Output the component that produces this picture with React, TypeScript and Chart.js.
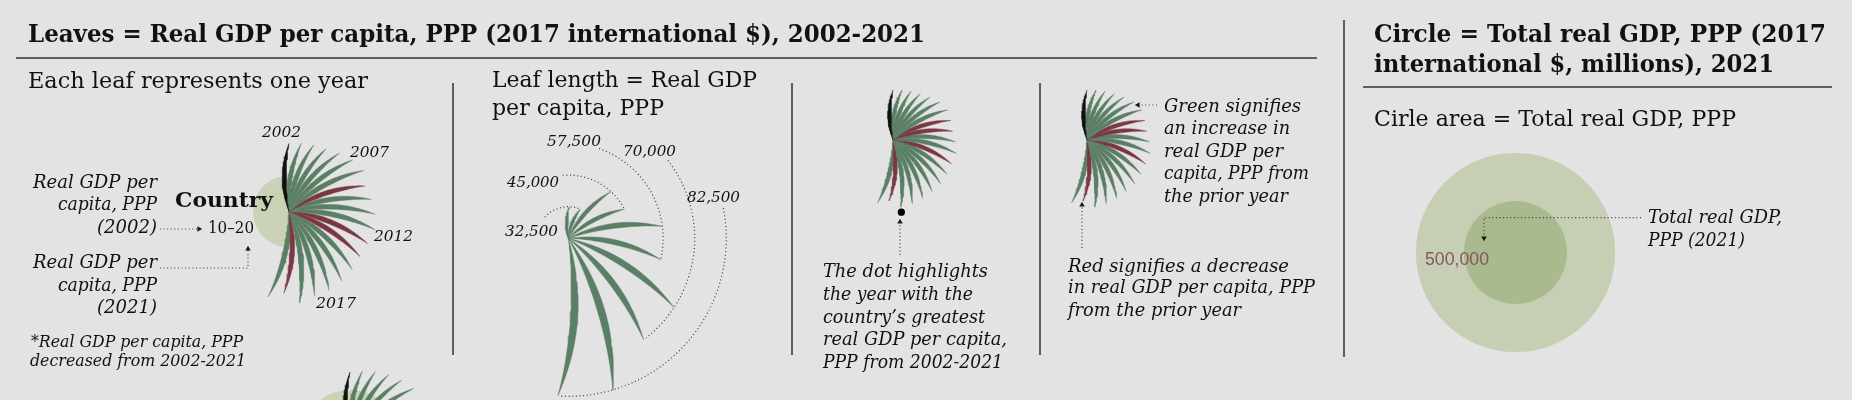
import React, { useEffect, useRef } from "react";
import { Chart, registerables } from "chart.js";

Chart.register(...registerables);

// ---------------- DATA ----------------
const years = [2002, 2003, 2004, 2005, 2006, 2007, 2008, 2009, 2010, 2011, 2012, 2013, 2014, 2015, 2016, 2017, 2018, 2019, 2020, 2021];
// real GDP per capita, PPP (thousands of 2017 intl $) of the example country
const exampleGdpPc = [10, 10.5, 11.5, 12.5, 14.5, 17, 18.5, 16, 17.5, 19, 20, 18.5, 18, 19, 19.5, 20, 20, 22, 17, 20];
const smallFanGdpPc = [10, 10.5, 11.5, 12.5, 14.5, 17, 18.5, 17.5, 17, 18.5, 20, 19, 19.5, 20, 20, 20.5, 21, 22, 17.5, 20];
const bottomFanGdpPc = [10, 11, 12.5, 14, 15.5, 17, 16, 17.5, 18, 19, 20, 19, 20.5, 21, 21.5, 22, 22.5, 23, 22, 23];
// leaf length legend
const leafLengthValues = [32500, 32500, 45000, 45000, 57500, 57500, 70000, 70000, 82500, 82500];
const leafLengthTicks = [32500, 45000, 57500, 70000, 82500];
// total real GDP, PPP (millions)
const totalGdpLegend = [1870000, 500000];
const fanCircleGdp = [244000, 470000];

// ---------------- STYLE ----------------
const BG = "#e2e3e2";
const GREEN = "#5a7f64";
const RED = "#7a3846";
const BLACK = "#111111";
const LINE = "#333333";
const DOT = "#3a3a3a";
const SERIF = "'DejaVu Serif', serif";
const SANS = "'Liberation Sans', Arial, sans-serif";

const fmt = (v: number) => v.toLocaleString("en-US");

// ---------------- GEOMETRY HELPERS ----------------
function leafPoints(cx: number, cy: number, angDeg: number, L: number, W: number, bulge = 0.07) {
  const a = (angDeg * Math.PI) / 180;
  const dx = Math.sin(a), dy = -Math.cos(a);
  const nx = -Math.cos(a), ny = -Math.sin(a);
  const N = 26;
  const left: { x: number; y: number }[] = [];
  const right: { x: number; y: number }[] = [];
  for (let k = 0; k <= N; k++) {
    const t = k / N;
    const off = bulge * L * 4 * t * (1 - t);
    const px = cx + dx * L * t + nx * off;
    const py = cy + dy * L * t + ny * off;
    const dOff = bulge * L * 4 * (1 - 2 * t);
    let tx = dx * L + nx * dOff, ty = dy * L + ny * dOff;
    const tl = Math.hypot(tx, ty);
    tx /= tl; ty /= tl;
    const hx = -ty, hy = tx;
    const h = (W / 2) * Math.pow(Math.sin(Math.PI * t), 0.95);
    left.push({ x: px + hx * h, y: py + hy * h });
    right.push({ x: px - hx * h, y: py - hy * h });
  }
  const pts = [...left, ...right.reverse()];
  pts.push(pts[0]);
  return pts;
}

function leafDataset(pts: { x: number; y: number }[], color: string) {
  return {
    type: "line" as const,
    data: pts,
    borderColor: color,
    backgroundColor: color,
    borderWidth: 0.4,
    pointRadius: 0,
    fill: "shape" as const,
    tension: 0,
    order: 2,
  };
}

const leafWidth = (L: number) => 1.8 + 0.035 * L;
const STEP = 10.2;

function fanDatasets(cx: number, cy: number, values: number[], scale: number) {
  return values.map((v, i) => {
    const L = scale * (48 + 2 * v);
    const color = i === 0 ? BLACK : v < values[i - 1] ? RED : GREEN;
    return leafDataset(leafPoints(cx, cy, i * STEP, L, leafWidth(L), 0.07), color);
  });
}

function polyline(pts: { x: number; y: number }[], dotted = true, width = 1.2, color = DOT) {
  return {
    type: "line" as const,
    data: pts,
    borderColor: color,
    borderWidth: width,
    borderDash: dotted ? [1, 2.6] : [],
    pointRadius: 0,
    fill: false,
    tension: 0,
    order: 1,
  };
}

function arrowHead(x: number, y: number, rot: number) {
  return {
    type: "scatter" as const,
    data: [{ x, y }],
    pointStyle: "triangle",
    rotation: rot,
    pointRadius: 3.2,
    backgroundColor: "#1a1a1a",
    borderColor: "#1a1a1a",
    borderWidth: 0,
    order: 1,
  };
}

function bubble(x: number, y: number, r: number, color: string, order = 3) {
  return {
    type: "bubble" as const,
    data: [{ x, y, r }],
    backgroundColor: color,
    borderWidth: 0,
    hoverRadius: 0,
    order,
  };
}

const circleR = (v: number) => 51.5 * Math.sqrt(v / 500000);

// ---------------- DATASETS ----------------
function buildDatasets() {
  const ds: any[] = [];
  // rules and dividers
  ds.push(polyline([{ x: 16, y: 58 }, { x: 1317, y: 58 }], false, 1.5, LINE));
  ds.push(polyline([{ x: 1363, y: 87 }, { x: 1832, y: 87 }], false, 1.5, LINE));
  for (const x of [453, 792, 1040]) ds.push(polyline([{ x, y: 83 }, { x, y: 355 }], false, 1.5, LINE));
  ds.push(polyline([{ x: 1344, y: 20 }, { x: 1344, y: 357 }], false, 1.5, LINE));

  // panel 1 fan
  ds.push(bubble(289, 211.5, circleR(fanCircleGdp[0]), "#c9d2b5"));
  ds.push(...fanDatasets(289, 211.5, exampleGdpPc, 1));
  ds.push(polyline([{ x: 160, y: 229 }, { x: 197, y: 229 }]));
  ds.push(arrowHead(199, 229, 90));
  ds.push(polyline([{ x: 160, y: 268 }, { x: 248, y: 268 }, { x: 248, y: 250 }]));
  ds.push(arrowHead(248, 249, 0));

  // bottom partial fan (next country)
  ds.push(bubble(350, 440, circleR(fanCircleGdp[1]), "#c9d2b5"));
  ds.push(...fanDatasets(350, 440, bottomFanGdpPc, 1));

  // panel 2: leaf length legend
  const c2x = 568.3, c2y = 238.3;
  const r2 = (v: number) => (v - 20000) * 0.002528;
  leafLengthValues.forEach((v, i) => {
    const L = r2(v);
    ds.push(leafDataset(leafPoints(c2x, c2y, 2 + i * 20.2, L, leafWidth(L), 0.07), GREEN));
  });
  const arcStarts = [-48, -5, 19, 52, 79];
  leafLengthTicks.forEach((v, k) => {
    const r = r2(v);
    const a0 = arcStarts[k];
    const a1 = 2 + (2 * k + 1) * 20.2;
    const pts: { x: number; y: number }[] = [];
    for (let a = a0; a <= a1 + 0.001; a += 1.5) {
      const ar = (a * Math.PI) / 180;
      pts.push({ x: c2x + r * Math.sin(ar), y: c2y - r * Math.cos(ar) });
    }
    ds.push(polyline(pts));
  });

  // panel 3: dot at the max year
  const c3x = 893, c3y = 140, s3 = 0.735;
  ds.push(...fanDatasets(c3x, c3y, smallFanGdpPc, s3));
  const maxI = smallFanGdpPc.indexOf(Math.max(...smallFanGdpPc));
  const Lmax = s3 * (48 + 2 * smallFanGdpPc[maxI]) + 5;
  const am = (maxI * STEP * Math.PI) / 180;
  ds.push({
    type: "scatter",
    data: [{ x: c3x + Lmax * Math.sin(am), y: c3y - Lmax * Math.cos(am) }],
    pointRadius: 3.6,
    backgroundColor: "#000",
    borderWidth: 0,
    order: 1,
  });
  ds.push(polyline([{ x: 900, y: 255 }, { x: 900, y: 224 }]));
  ds.push(arrowHead(900, 222, 0));

  // panel 4: colours
  const c4x = 1087, c4y = 140;
  ds.push(...fanDatasets(c4x, c4y, smallFanGdpPc, s3));
  ds.push(polyline([{ x: 1157, y: 105 }, { x: 1140, y: 105 }]));
  ds.push(arrowHead(1138, 105, -90));
  ds.push(polyline([{ x: 1082, y: 248 }, { x: 1082, y: 207 }]));
  ds.push(arrowHead(1082, 205, 0));

  // panel 5: circle (outer drawn first, inner on top)
  ds.push(bubble(1515.5, 252.5, circleR(totalGdpLegend[0]), "#c6cfb3", 5));
  ds.push(bubble(1515.5, 252.5, circleR(totalGdpLegend[1]), "#a9ba8f", 4));
  ds.push(polyline([{ x: 1641, y: 217.7 }, { x: 1484, y: 217.7 }, { x: 1484, y: 236 }]));
  ds.push(arrowHead(1484, 238, 180));
  return ds;
}

// ---------------- TEXT ----------------
type Lbl = { t: string; x: number; b: number; s: number; w: number; it?: boolean; bold?: boolean; right?: boolean; color?: string; fam?: string };

const labels: Lbl[] = [
  { t: "Leaves = Real GDP per capita, PPP (2017 international $), 2002-2021", x: 28, b: 42, s: 24, w: 897, bold: true },
  { t: "Circle = Total real GDP, PPP (2017", x: 1374, b: 42, s: 24, w: 452, bold: true },
  { t: "international $, millions), 2021", x: 1374, b: 72, s: 24, w: 400, bold: true },
  { t: "Each leaf represents one year", x: 28, b: 88, s: 22, w: 340 },
  { t: "Leaf length = Real GDP", x: 492, b: 87, s: 22, w: 265 },
  { t: "per capita, PPP", x: 492, b: 115, s: 22, w: 172 },
  { t: "Cirle area = Total real GDP, PPP", x: 1374, b: 126, s: 22, w: 362 },
  // panel 1
  { t: "Real GDP per", x: 157, b: 188, s: 18, w: 124, it: true, right: true },
  { t: "capita, PPP", x: 157, b: 210, s: 18, w: 99, it: true, right: true },
  { t: `(${years[0]})`, x: 157, b: 233, s: 18, w: 60, it: true, right: true },
  { t: "Real GDP per", x: 157, b: 268, s: 18, w: 124, it: true, right: true },
  { t: "capita, PPP", x: 157, b: 291, s: 18, w: 99, it: true, right: true },
  { t: `(${years[years.length - 1]})`, x: 157, b: 313, s: 18, w: 60, it: true, right: true },
  { t: "Country", x: 175, b: 207, s: 21, w: 98, bold: true },
  { t: `${exampleGdpPc[0]}–${exampleGdpPc[exampleGdpPc.length - 1]}`, x: 208, b: 233, s: 17, w: 46 },
  { t: String(years[0]), x: 262, b: 137, s: 15, w: 39, it: true },
  { t: String(years[5]), x: 350, b: 157, s: 15, w: 39, it: true },
  { t: String(years[10]), x: 374, b: 241, s: 15, w: 39, it: true },
  { t: String(years[15]), x: 316, b: 308, s: 15, w: 40, it: true },
  { t: "*Real GDP per capita, PPP", x: 31, b: 347, s: 16, w: 212, it: true },
  { t: "decreased from 2002-2021", x: 30, b: 366, s: 16, w: 216, it: true },
  // panel 2
  { t: fmt(leafLengthTicks[0]), x: 505, b: 237, s: 15.5, w: 53, it: true },
  { t: fmt(leafLengthTicks[1]), x: 507, b: 188, s: 15.5, w: 52, it: true },
  { t: fmt(leafLengthTicks[2]), x: 547, b: 147, s: 15.5, w: 54, it: true },
  { t: fmt(leafLengthTicks[3]), x: 623, b: 157, s: 15.5, w: 53, it: true },
  { t: fmt(leafLengthTicks[4]), x: 687, b: 202.5, s: 15.5, w: 53, it: true },
  // panel 3
  { t: "The dot highlights", x: 823, b: 277, s: 18, w: 165, it: true },
  { t: "the year with the", x: 823, b: 300, s: 18, w: 150, it: true },
  { t: "country’s greatest", x: 823, b: 323, s: 18, w: 162, it: true },
  { t: "real GDP per capita,", x: 823, b: 345, s: 18, w: 184, it: true },
  { t: "PPP from 2002-2021", x: 823, b: 368, s: 18, w: 180, it: true },
  // panel 4
  { t: "Green signifies", x: 1164, b: 112, s: 18, w: 137, it: true },
  { t: "an increase in", x: 1164, b: 134, s: 18, w: 126, it: true },
  { t: "real GDP per", x: 1164, b: 157, s: 18, w: 119, it: true },
  { t: "capita, PPP from", x: 1164, b: 179, s: 18, w: 145, it: true },
  { t: "the prior year", x: 1164, b: 202, s: 18, w: 124, it: true },
  { t: "Red signifies a decrease", x: 1068, b: 272, s: 18, w: 221, it: true },
  { t: "in real GDP per capita, PPP", x: 1068, b: 293.5, s: 18, w: 247, it: true },
  { t: "from the prior year", x: 1068, b: 316, s: 18, w: 173, it: true },
  // panel 5
  { t: fmt(totalGdpLegend[1]), x: 1425, b: 265, s: 18, w: 64, color: "#8a5560", fam: SANS },
  { t: "Total real GDP,", x: 1648, b: 223, s: 18, w: 134, it: true },
  { t: `PPP (${years[years.length - 1]})`, x: 1648, b: 246, s: 18, w: 97, it: true },
];

let measureCtx: CanvasRenderingContext2D | null = null;
function measure(font: string, text: string) {
  if (!measureCtx) measureCtx = document.createElement("canvas").getContext("2d");
  const ctx = measureCtx!;
  ctx.font = font;
  const m = ctx.measureText(text);
  const asc = (m as any).fontBoundingBoxAscent ?? 0;
  const desc = (m as any).fontBoundingBoxDescent ?? 0;
  return { width: m.width, asc, desc };
}

function Label({ l }: { l: Lbl }) {
  const fam = l.fam || SERIF;
  const style = l.it ? "italic" : "normal";
  const weight = l.bold ? "bold" : "normal";
  const font = `${style} ${weight} ${l.s}px ${fam}`;
  const m = measure(font, l.t);
  const asc = m.asc || l.s * 0.93;
  const desc = m.desc || l.s * 0.24;
  const left = l.right ? l.x - l.w : l.x;
  const sx = m.width > 0 ? l.w / m.width : 1;
  const top = l.b - asc - (l.s - asc - desc) / 2;
  return (
    <div
      style={{
        position: "absolute",
        left,
        top,
        fontFamily: fam,
        fontStyle: style,
        fontWeight: weight,
        fontSize: l.s,
        lineHeight: `${l.s}px`,
        height: l.s,
        whiteSpace: "nowrap",
        color: l.color || "#111",
        transform: `scaleX(${sx})`,
        transformOrigin: "0 0",
      }}
    >
      {l.t}
    </div>
  );
}

export default function App() {
  const ref = useRef<HTMLCanvasElement>(null);
  useEffect(() => {
    if (!ref.current) return;
    const chart = new Chart(ref.current, {
      type: "scatter",
      data: { datasets: buildDatasets() },
      options: {
        responsive: false,
        animation: false,
        events: [],
        layout: { padding: 0, autoPadding: false },
        plugins: { legend: { display: false }, tooltip: { enabled: false } },
        scales: {
          x: { type: "linear", min: 0, max: 1852, display: false },
          y: { type: "linear", min: 0, max: 400, reverse: true, display: false },
        },
      },
    } as any);
    return () => chart.destroy();
  }, []);
  return (
    <div style={{ position: "absolute", left: 0, top: 0, width: 1852, height: 400, background: BG, overflow: "hidden" }}>
      <canvas ref={ref} width={1852} height={400} style={{ position: "absolute", left: 0, top: 0, width: 1852, height: 400 }} />
      {labels.map((l, i) => (
        <Label key={i} l={l} />
      ))}
    </div>
  );
}
